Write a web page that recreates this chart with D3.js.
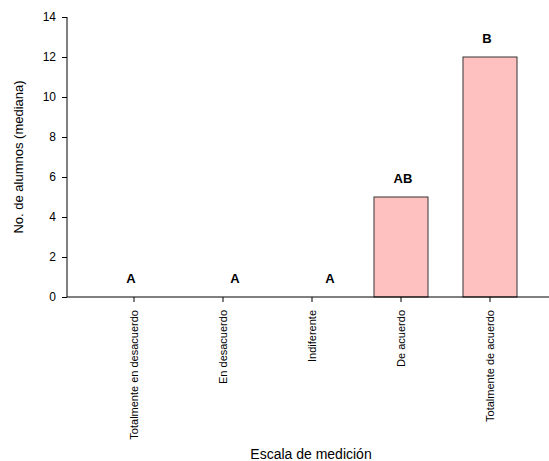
<!DOCTYPE html>
<html><head><meta charset="utf-8">
<script src="https://cdn.jsdelivr.net/npm/d3@7"></script>
<style>body{margin:0;background:#fff}svg{display:block}text{font-family:"Liberation Sans",Arial,sans-serif}</style>
</head><body>
<script>
const categories = ["Totalmente en desacuerdo","En desacuerdo","Indiferente","De acuerdo","Totalmente de acuerdo"];
const values = [0,0,0,5,12];
const groupLabels = ["A","A","A","AB","B"];
const yTicks = [0,2,4,6,8,10,12,14];

const W=549,H=461;
const svg=d3.select("body").append("svg").attr("width",W).attr("height",H);
const x=d3.scaleBand().domain(categories).range([89.5,534.5]).paddingInner(0.393).paddingOuter(0.1965);
const y=d3.scaleLinear().domain([0,14]).range([297,17]);
const axX=67;
// manual horizontal nudges of the letter annotations, as placed in the original
const labelDx=[-3,12,18,2,-3];

svg.selectAll("rect.bar").data(values).enter().append("rect")
  .attr("x",(d,i)=>x(categories[i])).attr("width",x.bandwidth())
  .attr("y",d=>y(d)).attr("height",d=>y(0)-y(d))
  .attr("fill","#ffc0c0").attr("stroke","#333").attr("stroke-width",1)
  .style("display",d=>d>0?null:"none");

svg.selectAll("text.grp").data(values).enter().append("text")
  .attr("x",(d,i)=>x(categories[i])+x.bandwidth()/2+labelDx[i])
  .attr("y",d=>y(d)-14)
  .attr("text-anchor","middle").attr("font-size",13).attr("font-weight","bold")
  .text((d,i)=>groupLabels[i]);

// y axis
const gy=svg.append("g").attr("transform",`translate(${axX},0)`)
  .call(d3.axisLeft(y).tickValues(yTicks).tickSize(5).tickPadding(6));
gy.select(".domain").attr("d",`M0,${y(14)}V${y(0)}`).attr("stroke","#000");
gy.selectAll("text").attr("font-size",12).attr("fill","#000").style("font-family","Liberation Sans, Arial");

// x axis
const gx=svg.append("g").attr("transform",`translate(0,${y(0)})`)
  .call(d3.axisBottom(x).tickSize(5).tickPadding(4));
gx.select(".domain").remove();
gx.append("line").attr("x1",axX).attr("x2",W).attr("y1",0).attr("y2",0).attr("stroke","#000");
gx.selectAll(".tick text").attr("font-size",11).attr("fill","#000").style("font-family","Liberation Sans, Arial")
  .attr("text-anchor","end").attr("dy","0.35em")
  .attr("transform","rotate(-90)").attr("x",-13).attr("y",0);

svg.append("text").attr("transform","translate(23,157) rotate(-90)")
  .attr("text-anchor","middle").attr("font-size",13).text("No. de alumnos (mediana)");
svg.append("text").attr("x",311).attr("y",459).attr("text-anchor","middle")
  .attr("font-size",14).text("Escala de medición");
</script>
</body></html>
